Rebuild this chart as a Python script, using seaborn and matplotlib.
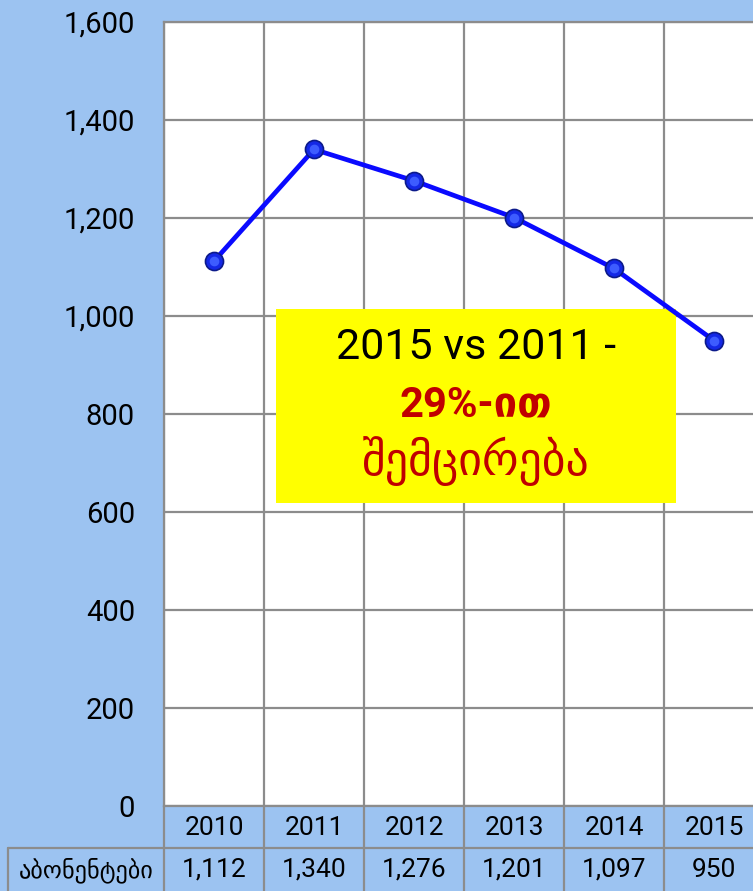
import matplotlib
matplotlib.use("Agg")
import matplotlib.pyplot as plt
import matplotlib.transforms as mtransforms
from matplotlib.patches import Rectangle
from matplotlib.lines import Line2D
import seaborn as sns
import pandas as pd

years = ["2010", "2011", "2012", "2013", "2014", "2015"]
subscribers = [1112, 1340, 1276, 1201, 1097, 950]
row_label = "აბონენტები"
y_ticks = [0, 200, 400, 600, 800, 1000, 1200, 1400, 1600]
note_line1 = "2015 vs 2011 -"
note_line2 = "29%-ით"
note_line3 = "შემცირება"

BG = "#9cc3f1"
GRID = "#8c8c8c"

sns.set_theme(style="white")
plt.rcParams["font.family"] = ["Roboto", "DejaVu Sans"]

df = pd.DataFrame({"year": years, "value": subscribers})
df["pos"] = range(len(years))

fig = plt.figure(figsize=(7.53, 8.91), dpi=100, facecolor=BG)
ax = fig.add_axes([164 / 753, (891 - 806) / 891, 600 / 753, 784 / 891])
ax.set_facecolor("white")

sns.lineplot(data=df, x="pos", y="value", ax=ax, color="#0a0aff", linewidth=3.4,
             marker="o", markersize=13, markerfacecolor="#1428e6",
             markeredgecolor="#0c1a8a", markeredgewidth=1.2, zorder=5)
# highlight for sphere look
ax.plot(df["pos"], df["value"], linestyle="none", marker="o", markersize=7,
        markerfacecolor="#3d5cff", markeredgewidth=0, zorder=6)

ax.set_xlim(-0.5, len(years) - 0.5)
ax.set_ylim(0, 1600)
ax.set_yticks(y_ticks)
ax.set_yticklabels([f"{v:,}" for v in y_ticks], fontsize=21,
                   family=["Roboto", "DejaVu Sans"], color="black")
ax.set_xticks([i - 0.5 for i in range(len(years) + 1)])
ax.set_xticklabels([])
ax.tick_params(axis="y", length=0, pad=21)
ax.tick_params(axis="x", length=0, pad=0)
ax.grid(True, color=GRID, linewidth=1.6)
ax.set_xlabel("")
ax.set_ylabel("")
for s in ax.spines.values():
    s.set_color(GRID)
    s.set_linewidth(1.6)
ax.spines["right"].set_visible(False)

# annotation box
ax.add_patch(Rectangle((0.62, 618), 4.0, 396, facecolor="#ffff00",
                       edgecolor="none", zorder=4))
cx = 2.62
ax.text(cx, 935, note_line1, ha="center", va="center", fontsize=31,
        color="black", family=["Roboto", "DejaVu Sans"], zorder=7)
ax.text(cx, 818, note_line2, ha="center", va="center", fontsize=30,
        color="#c00000", fontweight="bold", family=["Roboto", "DejaVu Sans"], zorder=7)
ax.text(cx, 703, note_line3, ha="center", va="center", fontsize=33,
        color="#c00000", family=["DejaVu Sans"], zorder=7)

# data table below the axes
tr = mtransforms.blended_transform_factory(ax.transData, ax.transAxes)
r1_bot = -42 / 784
r2_bot = -100 / 784
left_x = -2.06
for i in range(len(years) + 1):
    ax.add_line(Line2D([i - 0.5, i - 0.5], [0, r2_bot], transform=tr,
                       color=GRID, linewidth=1.6, clip_on=False))
ax.add_line(Line2D([left_x, len(years) - 0.5], [r1_bot, r1_bot], transform=tr,
                   color=GRID, linewidth=1.6, clip_on=False))
ax.add_line(Line2D([left_x, left_x], [r1_bot, r2_bot], transform=tr,
                   color=GRID, linewidth=1.6, clip_on=False))
for i, (yr, v) in enumerate(zip(years, subscribers)):
    ax.text(i, -22 / 784, yr, transform=tr, ha="center", va="center",
            fontsize=19, family=["Roboto", "DejaVu Sans"], color="black")
    ax.text(i, -64 / 784, f"{v:,}", transform=tr, ha="center", va="center",
            fontsize=19, family=["Roboto", "DejaVu Sans"], color="black")
ax.text((left_x - 0.5) / 2, -64 / 784, row_label, transform=tr, ha="center",
        va="center", fontsize=17.5, family=["DejaVu Sans"], color="black")

fig.savefig("out.png", dpi=100, facecolor=BG)
